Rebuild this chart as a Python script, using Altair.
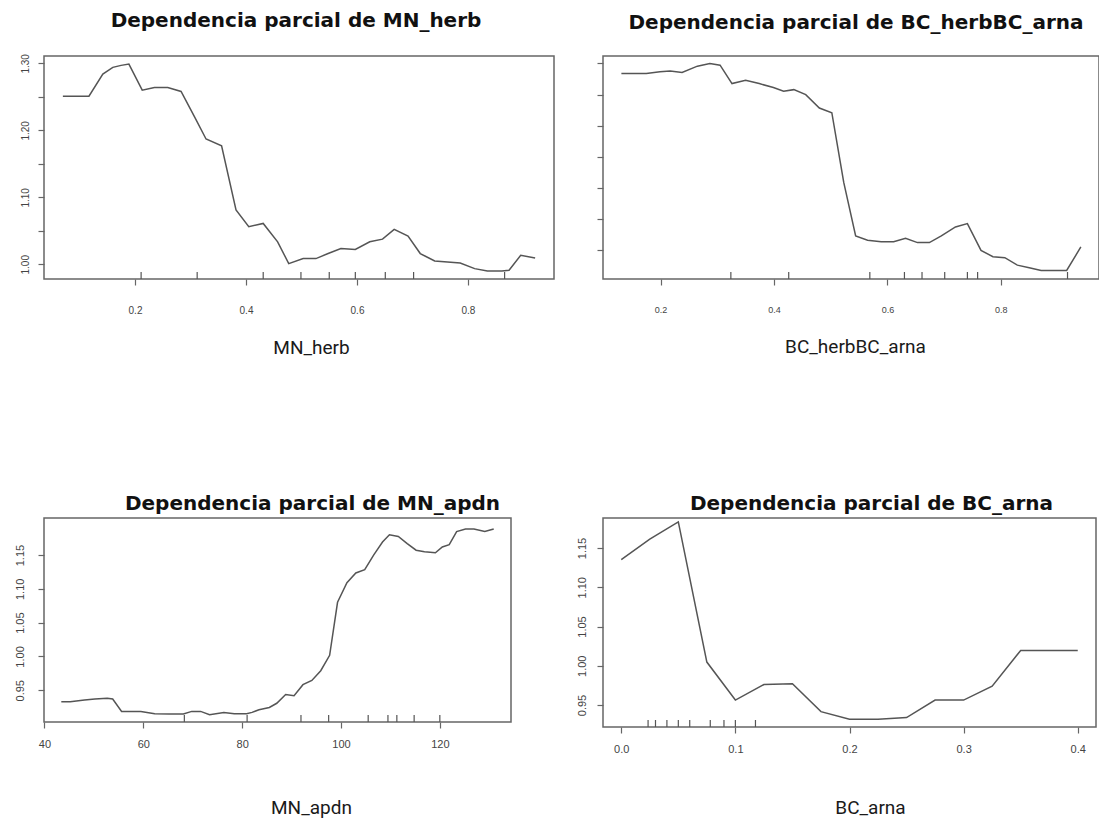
import altair as alt
import pandas as pd

# ---------------- data ----------------
herb_x = [0.070, 0.117, 0.142, 0.160, 0.175, 0.189, 0.213, 0.235, 0.259, 0.283, 0.308,
          0.328, 0.356, 0.382, 0.405, 0.431, 0.457, 0.477, 0.503, 0.526, 0.548, 0.571,
          0.597, 0.623, 0.646, 0.667, 0.692, 0.714, 0.740, 0.763, 0.786, 0.812, 0.835,
          0.861, 0.874, 0.895, 0.921]
herb_y = [1.251, 1.251, 1.284, 1.294, 1.297, 1.299, 1.260, 1.264, 1.264, 1.258, 1.219,
          1.187, 1.177, 1.081, 1.056, 1.061, 1.0335, 1.001, 1.0085, 1.0085, 1.016, 1.0235,
          1.022, 1.0335, 1.0375, 1.052, 1.042, 1.016, 1.005, 1.0035, 1.002, 0.9935, 0.990,
          0.990, 0.991, 1.0135, 1.0095]
herb_rug = [0.211, 0.312, 0.431, 0.499, 0.550, 0.597, 0.651, 0.702, 0.866]

hb_x = [0.131, 0.175, 0.199, 0.217, 0.238, 0.265, 0.287, 0.305, 0.326, 0.350, 0.374,
        0.399, 0.417, 0.435, 0.456, 0.480, 0.502, 0.523, 0.544, 0.565, 0.589, 0.611,
        0.632, 0.653, 0.674, 0.695, 0.720, 0.741, 0.765, 0.786, 0.807, 0.829, 0.850,
        0.871, 0.895, 0.916, 0.941]
hb_y = [1.284, 1.284, 1.2866, 1.288, 1.2855, 1.2957, 1.300, 1.2973, 1.2677, 1.2731,
        1.2677, 1.2613, 1.2554, 1.258, 1.250, 1.2285, 1.221, 1.109, 1.0231, 1.0161,
        1.014, 1.014, 1.0194, 1.0124, 1.0124, 1.0231, 1.0376, 1.043, 1.000, 0.9898,
        0.9882, 0.9763, 0.972, 0.9677, 0.9677, 0.9677, 1.0054]
hb_rug = [0.324, 0.426, 0.569, 0.630, 0.661, 0.701, 0.741, 0.759, 0.9175]

apdn_x = [43.4, 45.2, 48.1, 50.2, 52.7, 53.8, 55.6, 57.4, 59.5, 62.3, 65.2, 68.1, 69.8,
          71.6, 73.4, 76.3, 78.4, 80.9, 82.0, 83.4, 85.5, 87.0, 88.8, 90.5, 92.3, 94.1,
          95.9, 97.7, 99.3, 101.2, 103.0, 104.8, 106.6, 108.4, 109.8, 111.6, 113.4,
          115.2, 116.9, 119.1, 120.5, 121.9, 123.4, 125.2, 126.9, 129.1, 130.9]
apdn_y = [0.9331, 0.9331, 0.9355, 0.937, 0.938, 0.937, 0.9187, 0.9187, 0.9187, 0.9153,
          0.9148, 0.9148, 0.9187, 0.9187, 0.9139, 0.9172, 0.9153, 0.9153, 0.9172, 0.9211,
          0.9245, 0.9307, 0.9437, 0.9418, 0.9582, 0.9645, 0.9789, 1.0016, 1.0801, 1.109,
          1.1235, 1.1283, 1.150, 1.1693, 1.1799, 1.1775, 1.1669, 1.1572, 1.1548, 1.1534,
          1.162, 1.1654, 1.1847, 1.1886, 1.1886, 1.1847, 1.1886]
apdn_rug = [68.3, 81.0, 91.9, 97.5, 105.5, 109.5, 111.3, 114.8, 120.0]

arna_x = [0.0, 0.025, 0.05, 0.075, 0.1, 0.125, 0.15, 0.175, 0.2, 0.225, 0.25, 0.275,
          0.3, 0.325, 0.35, 0.375, 0.4]
arna_y = [1.1353, 1.1614, 1.1833, 1.0047, 0.9563, 0.9761, 0.977, 0.9416, 0.9319, 0.9319,
          0.934, 0.9563, 0.9563, 0.974, 1.0195, 1.0195, 1.0195]
arna_rug = [0.0235, 0.030, 0.040, 0.050, 0.060, 0.078, 0.090, 0.100, 0.1176]

titles = ["Dependencia parcial de MN_herb", "Dependencia parcial de BC_herbBC_arna",
          "Dependencia parcial de MN_apdn", "Dependencia parcial de BC_arna"]
xlabels = ["MN_herb", "BC_herbBC_arna", "MN_apdn", "BC_arna"]

LINE = "#555555"
FRAME = "#666666"
LABEL = "#444444"


def panel(xs, ys, rug, xdom, ydom, xticks, yticks, xfmt, yfmt, ylabelexpr, ylabels,
          w, h, title, tdx, toff, xtitle, txx, txy, lsize, ylpad, xlpad):
    df = pd.DataFrame({"x": xs, "y": ys})
    rdf = pd.DataFrame({"x": rug})
    xaxis = alt.Axis(values=xticks, format=xfmt, title=xtitle, titleX=txx, titleY=txy,
                     titleAlign="center", titleBaseline="middle", titleFont="Roboto",
                     titleFontSize=19, titleFontWeight="normal", titleColor="#1a1a1a",
                     domain=False, grid=False, ticks=True, tickSize=6, tickColor=FRAME,
                     tickWidth=1.2, labelFont="Liberation Sans", labelFontSize=lsize,
                     labelColor=LABEL, labelPadding=xlpad, labelFlush=False)
    yargs = dict(values=yticks, format=yfmt, title="", domain=False, grid=False,
                 ticks=True, tickSize=6, tickColor=FRAME, tickWidth=1.2,
                 labelFont="Liberation Sans", labelFontSize=lsize, labelColor=LABEL,
                 labelAngle=270, labelAlign="center", labelBaseline="bottom",
                 labelPadding=ylpad, labelFlush=False, labels=ylabels)
    if ylabelexpr:
        yargs["labelExpr"] = ylabelexpr
    yaxis = alt.Axis(**yargs)
    X = alt.X("x:Q", scale=alt.Scale(domain=xdom, nice=False, zero=False), axis=xaxis)
    Y = alt.Y("y:Q", scale=alt.Scale(domain=ydom, nice=False, zero=False), axis=yaxis)
    line = alt.Chart(df).mark_line(color=LINE, strokeWidth=1.5).encode(x=X, y=Y)
    rugs = alt.Chart(rdf).mark_rule(color=LINE, strokeWidth=1.2).encode(
        x=X, y=alt.value(h), y2=alt.value(h - 7))
    return alt.layer(line, rugs).properties(
        width=w, height=h,
        title=alt.TitleParams(text=title, font="DejaVu Sans", fontSize=20,
                              fontWeight="bold", color="#111111", anchor="middle",
                              dx=tdx, offset=toff, frame="group"))


# plot-area layout (pixels): col1 at x=44, col2 at x=603; row1 y=56, row2 y=518
p1 = panel(herb_x, herb_y, herb_rug, [0.036, 0.955], [0.978, 1.311],
           [0.2, 0.4, 0.6, 0.8], [1.0, 1.05, 1.1, 1.15, 1.2, 1.25, 1.3], ".1f", ".2f",
           "indexof(['1.00','1.10','1.20','1.30'], datum.label) >= 0 ? datum.label : ''",
           True, 510, 223, titles[0], -3, 23, xlabels[0], 267, 68, 10, 8, 20)
p2 = panel(hb_x, hb_y, hb_rug, [0.0986, 0.973], [0.954, 1.312],
           [0.2, 0.4, 0.6, 0.8], [1.0, 1.05, 1.1, 1.15, 1.2, 1.25, 1.3], ".1f", ".2f",
           "", False, 496, 223, titles[1], 5, 23, xlabels[1], 252, 67, 9, 8, 20)
p3 = panel(apdn_x, apdn_y, apdn_rug, [39.9, 134.4], [0.903, 1.2048],
           [40, 60, 80, 100, 120], [0.95, 1.0, 1.05, 1.1, 1.15], "d", ".2f",
           "", True, 467, 204, titles[2], 35, 4, xlabels[2], 267, 85, 11, 13, 10)
p4 = panel(arna_x, arna_y, arna_rug, [-0.016, 0.416], [0.922, 1.1882],
           [0.0, 0.1, 0.2, 0.3, 0.4], [0.95, 1.0, 1.05, 1.1, 1.15], ".1f", ".2f",
           "", True, 493, 209, titles[3], 22, 4, xlabels[3], 267, 80, 11, 10, 10)

chart = alt.concat(p1, p2, p3, p4, columns=2, bounds="flush",
                   spacing={"row": 239, "column": 49}).properties(
    autosize=alt.AutoSizeParams(type="none"),
    padding={"left": 44, "top": 56, "right": 1055, "bottom": 766},
    background="white",
).configure_view(stroke=FRAME, strokeWidth=1.5)

chart.save("out.html", embed_options={"renderer": "svg", "actions": False})
